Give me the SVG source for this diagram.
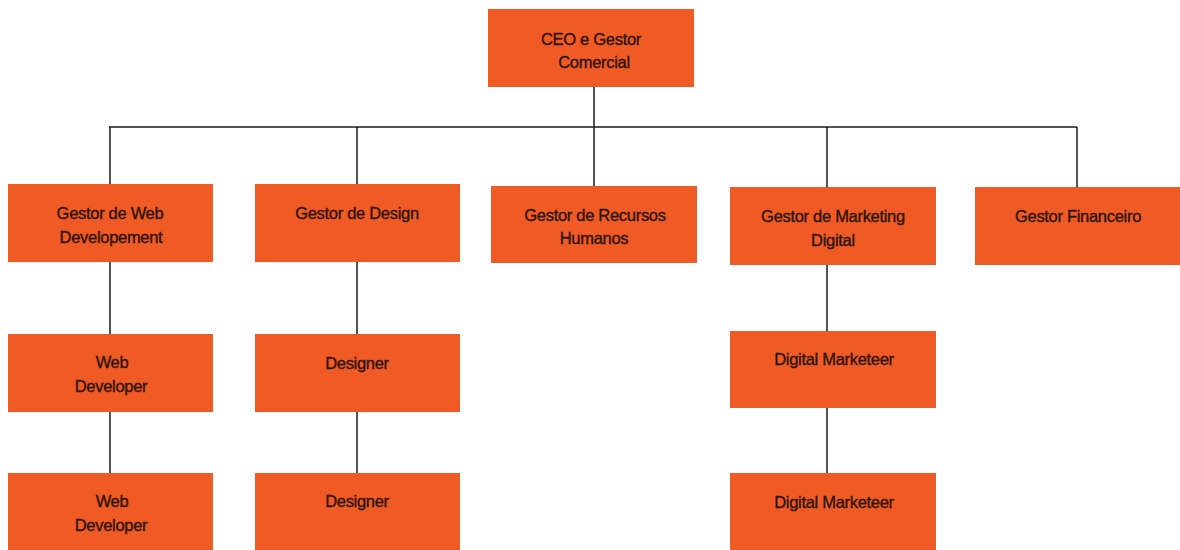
<svg xmlns="http://www.w3.org/2000/svg" width="1180" height="550" viewBox="0 0 1180 550">
  <style>
    .box { fill: #F05A24; }
    .lbl { font-family: "Liberation Sans", Arial, sans-serif; font-size: 16.5px; fill: #2b1408; stroke: #2b1408; stroke-width: 0.35px; text-anchor: middle; letter-spacing: -0.3px; }
    .wire { stroke: #1a1a1a; stroke-width: 1.5; fill: none; }
  </style>
  <rect width="1180" height="550" fill="#ffffff"/>

  <g id="connectors">
    <path class="wire" d="M594 87 V127 M109 127 H1077"/>
    <path class="wire" d="M110 127 V184 M357 127 V184 M594 127 V186 M827 127 V187 M1077 127 V187"/>
    <path class="wire" d="M110 262 V334 M110 412 V473"/>
    <path class="wire" d="M357 262 V334 M357 412 V473"/>
    <path class="wire" d="M827 265 V331 M827 408 V473"/>
  </g>

  <g id="ceo">
    <rect class="box" x="488" y="9" width="206" height="78"/>
    <text class="lbl" x="591" y="45">CEO e Gestor</text>
    <text class="lbl" x="594" y="68">Comercial</text>
  </g>

  <g id="gestor-web">
    <rect class="box" x="8" y="184" width="205" height="78"/>
    <text class="lbl" x="110" y="219">Gestor de Web</text>
    <text class="lbl" x="111" y="243">Developement</text>
  </g>
  <g id="gestor-design">
    <rect class="box" x="255" y="184" width="205" height="78"/>
    <text class="lbl" x="357" y="219">Gestor de Design</text>
  </g>
  <g id="gestor-rh">
    <rect class="box" x="491" y="186" width="206" height="77"/>
    <text class="lbl" x="595" y="221">Gestor de Recursos</text>
    <text class="lbl" x="594" y="244">Humanos</text>
  </g>
  <g id="gestor-marketing">
    <rect class="box" x="730" y="187" width="206" height="78"/>
    <text class="lbl" x="833" y="222">Gestor de Marketing</text>
    <text class="lbl" x="833" y="246">Digital</text>
  </g>
  <g id="gestor-financeiro">
    <rect class="box" x="975" y="187" width="205" height="78"/>
    <text class="lbl" x="1078" y="222">Gestor Financeiro</text>
  </g>

  <g id="web-developer-1">
    <rect class="box" x="8" y="334" width="205" height="78"/>
    <text class="lbl" x="112" y="368">Web</text>
    <text class="lbl" x="111" y="392">Developer</text>
  </g>
  <g id="designer-1">
    <rect class="box" x="255" y="334" width="205" height="78"/>
    <text class="lbl" x="357" y="369">Designer</text>
  </g>
  <g id="digital-marketeer-1">
    <rect class="box" x="730" y="331" width="206" height="77"/>
    <text class="lbl" x="834" y="365">Digital Marketeer</text>
  </g>

  <g id="web-developer-2">
    <rect class="box" x="8" y="473" width="205" height="78"/>
    <text class="lbl" x="112" y="507">Web</text>
    <text class="lbl" x="111" y="531">Developer</text>
  </g>
  <g id="designer-2">
    <rect class="box" x="255" y="473" width="205" height="78"/>
    <text class="lbl" x="357" y="507">Designer</text>
  </g>
  <g id="digital-marketeer-2">
    <rect class="box" x="730" y="473" width="206" height="78"/>
    <text class="lbl" x="834" y="508">Digital Marketeer</text>
  </g>
</svg>
